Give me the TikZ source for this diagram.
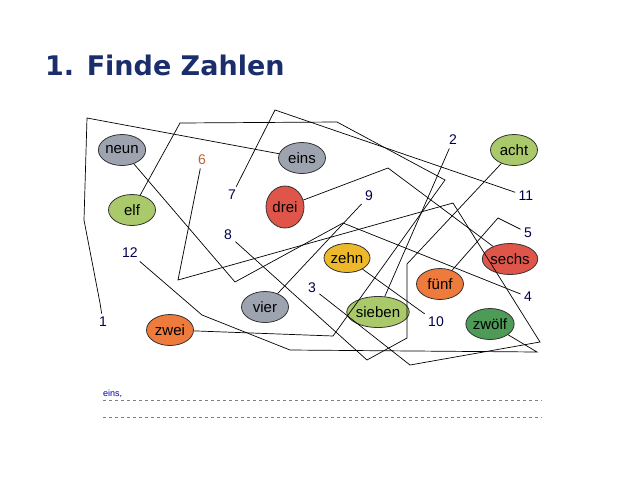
\documentclass[tikz,border=0pt]{standalone}
\usepackage{fontspec}
\setmainfont{Liberation Sans}
\newfontfamily\titlefont{DejaVu Sans}
\begin{document}
\begin{tikzpicture}[x=1pt,y=-1pt,
  w/.style={ellipse,draw=black!80,line width=0.8pt,minimum width=47pt,minimum height=31pt,inner sep=0pt,font=\fontsize{15}{16}\selectfont},
  num/.style={font=\fontsize{14}{15}\selectfont,text=blue!30!black},
  ln/.style={line width=0.7pt,black}]
\useasboundingbox (0,0) rectangle (640,480);
\definecolor{gr}{HTML}{9EA3B0}
\definecolor{lg}{HTML}{A9C96A}
\definecolor{rd}{HTML}{E0554A}
\definecolor{ye}{HTML}{EDB92A}
\definecolor{og}{HTML}{EE7A3C}
\definecolor{dg}{HTML}{4E9A57}
\definecolor{tb}{HTML}{1A2E6B}
\usetikzlibrary{shapes.geometric}
\node[anchor=west,inner sep=0pt,font=\titlefont\bfseries\fontsize{27}{30}\selectfont,text=tb] (title) at (45,65) {1. Finde Zahlen};
% words
\node[w,fill=gr] (neun) at (122,150) {neun};
\node[w,fill=gr] (eins) at (302,158) {eins};
\node[w,fill=lg] (elf) at (132,210) {elf};
\node[w,fill=rd,minimum width=38pt,minimum height=42pt] (drei) at (285,207) {drei};
\node[w,fill=ye,minimum width=45pt,minimum height=29pt] (zehn) at (347,258) {zehn};
\node[w,fill=rd] (sechs) at (510,259) {sechs};
\node[w,fill=og] (fuenf) at (440,284) {fünf};
\node[w,fill=lg,minimum width=49pt] (sieben) at (378,312) {sieben};
\node[w,fill=dg] (zwoelf) at (490,324) {zwölf};
\node[w,fill=gr] (vier) at (265,307) {vier};
\node[w,fill=og] (zwei) at (170,330) {zwei};
\node[w,fill=lg] (acht) at (514,150) {acht};
% numbers
\node[num,text=og!80!black] (n6) at (202,160) {6};
\node[num] (n7) at (232,195) {7};
\node[num] (n9) at (369,196) {9};
\node[num] (n2) at (453,140) {2};
\node[num] (n11) at (526,196) {11};
\node[num] (n5) at (528,233) {5};
\node[num] (n8) at (228,235) {8};
\node[num] (n12) at (130,253) {12};
\node[num] (n4) at (528,297) {4};
\node[num] (n3) at (312,288) {3};
\node[num] (n10) at (436,322) {10};
\node[num] (n1) at (103,322) {1};
% connectors
\draw[ln] (n1) -- (100,303) -- (84,220) -- (87,118) -- (eins);
\draw[ln] (zwei) -- (333,336) -- (445,180) -- (337,122) -- (180,123) -- (elf);
\draw[ln] (n2) -- (sieben);
\draw[ln] (n7) -- (275,110) -- (n11);
\draw[ln] (n9) -- (vier);
\draw[ln] (n10) -- (zehn);
\draw[ln] (n12) -- (202,315) -- (290,350) -- (537,352) -- (zwoelf);
\draw[ln] (neun) -- (235,282) -- (343,223) -- (n4);
\draw[ln] (drei) -- (388,168) -- (sechs);
\draw[ln] (n6) -- (178,280) -- (453,203) -- (540,342) -- (410,365) -- (n3);
\draw[ln] (n8) -- (367,360) -- (407,338) -- (407,264) -- (acht);
\draw[ln] (n5) -- (498,218) -- (fuenf);
% answer lines
\node[anchor=south west,inner sep=1pt,font=\fontsize{9}{10}\selectfont,text=blue!70!black] (ans) at (102,399) {eins,};
\draw[dashed,gray,line width=0.4pt] (103,400) -- (542,400);
\draw[dashed,gray,line width=0.4pt] (103,417) -- (542,417);
\end{tikzpicture}
\end{document}
